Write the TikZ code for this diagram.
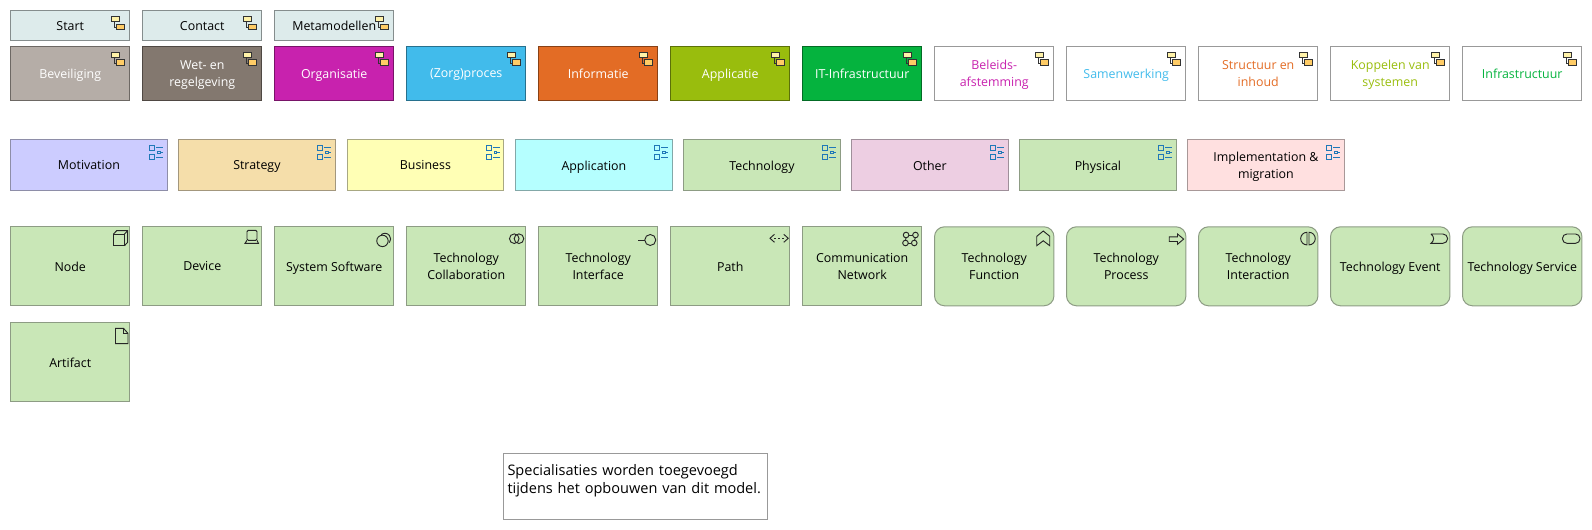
\documentclass[tikz,border=0pt]{standalone}
\usepackage{fontspec}
\setmainfont{Open Sans}
\usepackage{tikz}
\definecolor{startfill}{HTML}{DDEBEB}
\definecolor{bevfill}{HTML}{B5ADA7}
\definecolor{wetfill}{HTML}{83786F}
\definecolor{orgfill}{HTML}{C822AE}
\definecolor{zorgfill}{HTML}{41BBEB}
\definecolor{inffill}{HTML}{E36C25}
\definecolor{appfill}{HTML}{99BD0D}
\definecolor{itfill}{HTML}{05B33E}
\definecolor{motfill}{HTML}{CCCCFF}
\definecolor{strfill}{HTML}{F5DEAA}
\definecolor{busfill}{HTML}{FFFFB5}
\definecolor{aplfill}{HTML}{B5FFFF}
\definecolor{techfill}{HTML}{C9E7B7}
\definecolor{othfill}{HTML}{EDCEE2}
\definecolor{impfill}{HTML}{FFE0E0}
\definecolor{viewblue}{HTML}{1F78B8}
\definecolor{grpyellow}{HTML}{FFF2A8}
\definecolor{grporange}{HTML}{FFCC66}
\tikzset{
  blok/.style={draw,anchor=north west,inner sep=0pt,align=center,line width=.75pt,
    text depth=-1.5pt,font=\fontsize{9.3pt}{12.9pt}\selectfont},
  rijA/.style={blok,minimum width=89.6pt,minimum height=22.4pt},
  rijB/.style={blok,minimum width=89.6pt,minimum height=40.5pt},
  rijC/.style={blok,minimum width=117.6pt,minimum height=38.25pt},
  rijD/.style={blok,minimum width=89.6pt,minimum height=59.25pt,fill=techfill,draw=techfill!60!black!85},
  rond/.style={rijD,rounded corners=7.5pt},
  icoon/.style={line width=.7pt,black!85},
}
% mini icons, drawn from the north east corner of their box
\newcommand{\grpicon}[1]{\begin{scope}[shift={(#1.north east)},line width=.7pt,draw=black!80]
    \draw (-16.5,11.4)--(-16.5,17)--(-13.2,17);
    \draw[fill=grpyellow] (-18.6,6) rectangle (-10.6,11.4);
    \draw[fill=grporange] (-13.6,13.7) rectangle (-5.9,19.4);
  \end{scope}}
\newcommand{\viewicon}[1]{\begin{scope}[shift={(#1.north east)},line width=.7pt,draw=viewblue]
    \draw (-18.3,6) rectangle (-13,11);
    \draw (-18.3,15) rectangle (-13,20.4);
    \draw (-11.7,8.4)--(-4.6,8.4);
    \draw (-11.7,17.7)--(-4.6,17.7);
    \draw (-10,12) rectangle (-7.5,14);
    \draw (-7.5,13)--(-4.6,13);
  \end{scope}}
\newcommand{\grp}[6]{\node[#4,fill=#5,draw=#5!60!black] (#1) at (#2,#3) {#6}; \grpicon{#1}}
\newcommand{\wit}[5]{\node[rijB,draw=black!40,text=#4] (#1) at (#2,#3) {#5}; \grpicon{#1}}
\newcommand{\laag}[5]{\node[rijC,fill=#4,draw=#4!60!black!85] (#1) at (#2,#3) {#5}; \viewicon{#1}}
\begin{document}
\begin{tikzpicture}[x=.75pt,y=-.75pt]
  \useasboundingbox (0,0) rectangle (1592,530);

  % rij 1
  \grp{start}{10}{10.3}{rijA}{startfill}{Start}
  \grp{contact}{142}{10.3}{rijA}{startfill}{Contact}
  \grp{meta}{274}{10.3}{rijA}{startfill}{Metamodellen}

  % rij 2
  \grp{bev}{10}{46}{rijB,text=white}{bevfill}{Beveiliging}
  \grp{wet}{142}{46}{rijB,text=white}{wetfill}{Wet- en\\regelgeving}
  \grp{org}{274}{46}{rijB,text=white}{orgfill}{Organisatie}
  \grp{zorg}{406}{46}{rijB,text=white}{zorgfill}{(Zorg)proces}
  \grp{inf}{538}{46}{rijB,text=white}{inffill}{Informatie}
  \grp{app}{670}{46}{rijB,text=white}{appfill}{Applicatie}
  \grp{it}{802}{46}{rijB,text=white}{itfill}{IT-Infrastructuur}
  \wit{beleid}{934}{46}{orgfill}{Beleids-\\afstemming}
  \wit{samen}{1066}{46}{zorgfill}{Samenwerking}
  \wit{struct}{1198}{46}{inffill}{Structuur en\\inhoud}
  \wit{koppel}{1330}{46}{appfill}{Koppelen van\\systemen}
  \wit{infra}{1462}{46}{itfill}{Infrastructuur}

  % rij 3
  \laag{mot}{10}{139.3}{motfill}{Motivation}
  \laag{str}{178}{139.3}{strfill}{Strategy}
  \laag{bus}{346.5}{139.3}{busfill}{Business}
  \laag{apl}{515}{139.3}{aplfill}{Application}
  \laag{tech}{683}{139.3}{techfill}{Technology}
  \laag{oth}{851}{139.3}{othfill}{Other}
  \laag{phy}{1019}{139.3}{techfill}{Physical}
  \laag{imp}{1187}{139.3}{impfill}{Implementation \&\\migration}

  % rij 4
  \node[rijD] (node) at (10,226.3) {Node};
  \node[rijD] (device) at (142,226.3) {Device};
  \node[rijD] (syssw) at (274,226.3) {System Software};
  \node[rijD] (collab) at (406,226.3) {Technology\\Collaboration};
  \node[rijD] (iface) at (538,226.3) {Technology\\Interface};
  \node[rijD] (path) at (670,226.3) {Path};
  \node[rijD] (comm) at (802,226.3) {Communication\\Network};
  \node[rond] (func) at (934,226.3) {Technology\\Function};
  \node[rond] (proc) at (1066,226.3) {Technology\\Process};
  \node[rond] (inter) at (1198,226.3) {Technology\\Interaction};
  \node[rond] (event) at (1330,226.3) {Technology Event};
  \node[rond] (serv) at (1462,226.3) {Technology Service};

  % rij 5
  \node[rijD] (art) at (10,322.3) {Artifact};

  % notitie
  \node[blok,draw=black!40,minimum width=198pt,minimum height=49.5pt,inner xsep=3pt,
    text width=192pt,align=left,text depth=25.5pt,font=\fontsize{10.9pt}{13.5pt}\selectfont] (note) at (503,453.5)
    {Specialisaties worden toegevoegd\\tijdens het opbouwen van dit model.};

  % iconen rij 4
  \begin{scope}[shift={(node.north east)},icoon]
    \draw (-17,7.7) rectangle (-6,19.4);
    \draw (-17,7.7)--(-13.8,4.4)--(-2.8,4.4)--(-2.8,16)--(-6,19.4);
    \draw (-6,7.7)--(-2.8,4.4);
  \end{scope}
  \begin{scope}[shift={(device.north east)},icoon]
    \draw[rounded corners=1pt] (-15.5,4)--(-15.5,14)--(-5.5,14)--(-5.5,4)--cycle;
    \draw (-15.5,14)--(-17.4,17)--(-4,17)--(-5.5,14);
  \end{scope}
  \begin{scope}[shift={(syssw.north east)},icoon]
    \draw (-12,14.6) circle[radius=5.7];
    \draw (-9.5,12.7) ++(-130:5.7) arc[start angle=-130,end angle=40,radius=5.7];
  \end{scope}
  \begin{scope}[shift={(collab.north east)},icoon]
    \draw (-12.2,12.4) circle[radius=4.8];
    \draw (-7.5,12.4) circle[radius=4.8];
  \end{scope}
  \begin{scope}[shift={(iface.north east)},icoon]
    \draw (-8.2,13.7) circle[radius=5.5];
    \draw (-20.4,13.7)--(-13.7,13.7);
  \end{scope}
  \begin{scope}[shift={(path.north east)},icoon]
    \draw (-16,8)--(-20.5,12)--(-16,16);
    \draw (-6.7,8)--(-2.2,12)--(-6.7,16);
    \draw[dash pattern=on 1.5pt off 1.5pt] (-16,12)--(-6.7,12);
  \end{scope}
  \begin{scope}[shift={(comm.north east)},icoon]
    \draw (-16.4,8.7) circle[radius=2.8];
    \draw (-7,8.7) circle[radius=2.8];
    \draw (-17,16.7) circle[radius=2.8];
    \draw (-8.2,16.7) circle[radius=2.8];
    \draw (-13.6,8.7)--(-9.8,8.7);
    \draw (-14.2,16.7)--(-11,16.7);
    \draw (-16.6,11.5)--(-16.8,13.9);
    \draw (-7.2,11.5)--(-7.9,13.9);
  \end{scope}
  \begin{scope}[shift={(func.north east)},icoon]
    \draw (-17.7,19.4)--(-17.7,10)--(-11.2,4.7)--(-4.7,10)--(-4.7,19.4)--(-11.2,14.5)--cycle;
  \end{scope}
  \begin{scope}[shift={(proc.north east)},icoon]
    \draw (-17.2,10.5)--(-9,10.5)--(-9,7.7)--(-2.8,12.8)--(-9,18)--(-9,15.2)--(-17.2,15.2)--cycle;
  \end{scope}
  \begin{scope}[shift={(inter.north east)},icoon]
    \draw (-11.5,6) arc[start angle=-90,end angle=-270,radius=6.3]--cycle;
    \draw (-9.5,6) arc[start angle=-90,end angle=90,radius=6.3]--cycle;
  \end{scope}
  \begin{scope}[shift={(event.north east)},icoon]
    \draw (-19.5,7.7)--(-7.5,7.7) arc[start angle=-90,end angle=90,radius=4.65]--(-19.5,17)
      .. controls (-16,14.5) and (-16,10.2) .. (-19.5,7.7);
  \end{scope}
  \begin{scope}[shift={(serv.north east)},icoon]
    \draw[rounded corners=3.3pt] (-20,7.7) rectangle (-2.5,17);
  \end{scope}
  \begin{scope}[shift={(art.north east)},icoon]
    \draw (-15,6)--(-7,6)--(-2.5,11)--(-2.5,21.4)--(-15,21.4)--cycle;
    \draw (-7,6)--(-7,11)--(-2.5,11);
  \end{scope}
\end{tikzpicture}
\end{document}
